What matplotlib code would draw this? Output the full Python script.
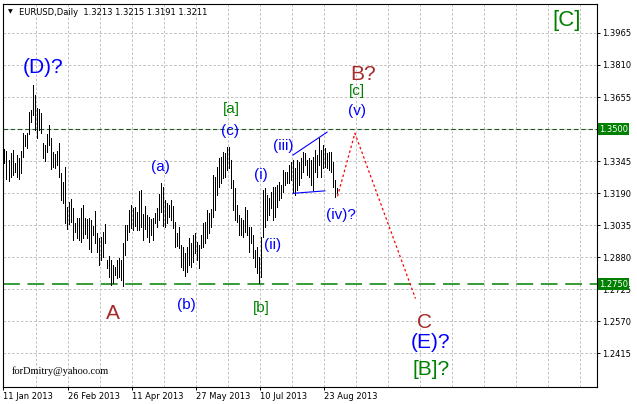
import matplotlib
matplotlib.use("Agg")
import matplotlib.pyplot as plt
import matplotlib.transforms as mtransforms

# daily bars, EURUSD 11 Jan 2013 .. early Sep 2013
highs = [
    1.3403, 1.3394, 1.3350, 1.3382, 1.3398, 1.3334, 1.3374, 1.3358, 1.3394, 1.3479,
    1.3471, 1.3479, 1.3584, 1.3592, 1.3713, 1.3665, 1.3600, 1.3597, 1.3576, 1.3431,
    1.3423, 1.3474, 1.3519, 1.3455, 1.3390, 1.3378, 1.3394, 1.3431, 1.3286, 1.3245,
    1.3318, 1.3124, 1.3145, 1.3161, 1.3116, 1.3044, 1.3071, 1.3068, 1.3116, 1.3132,
    1.3068, 1.3065, 1.3068, 1.3060, 1.3031, 1.3105, 1.2995, 1.2971, 1.2979, 1.3003,
    1.3040, 1.2866, 1.2886, 1.2866, 1.2842, 1.2834, 1.2866, 1.2874, 1.2866, 1.2950,
    1.3036, 1.3036, 1.3108, 1.3132, 1.3116, 1.3121, 1.3100, 1.3202, 1.3205, 1.3089,
    1.3127, 1.3084, 1.3076, 1.3063, 1.3068, 1.3092, 1.3116, 1.3186, 1.3240, 1.3221,
    1.3157, 1.3141, 1.3132, 1.3157, 1.3127, 1.3052, 1.2998, 1.3027, 1.2939, 1.2931,
    1.2899, 1.2931, 1.2971, 1.2947, 1.2987, 1.2995, 1.2955, 1.2939, 1.2987, 1.3044,
    1.3052, 1.3108, 1.3095, 1.3112, 1.3277, 1.3269, 1.3318, 1.3358, 1.3366, 1.3390,
    1.3382, 1.3414, 1.3414, 1.3350, 1.3253, 1.3213, 1.3132, 1.3084, 1.3068, 1.3060,
    1.3124, 1.3108, 1.3027, 1.3027, 1.2987, 1.2915, 1.2931, 1.2882, 1.2979, 1.3205,
    1.3213, 1.3181, 1.3165, 1.3197, 1.3221, 1.3221, 1.3229, 1.3245, 1.3229, 1.3302,
    1.3293, 1.3293, 1.3326, 1.3342, 1.3350, 1.3310, 1.3350, 1.3342, 1.3358, 1.3390,
    1.3382, 1.3350, 1.3358, 1.3350, 1.3366, 1.3398, 1.3374, 1.3455, 1.3398, 1.3423,
    1.3407, 1.3382, 1.3390, 1.3390, 1.3342, 1.3253, 1.3215]
lows = [
    1.3334, 1.3258, 1.3248, 1.3269, 1.3277, 1.3293, 1.3269, 1.3258, 1.3286, 1.3366,
    1.3419, 1.3410, 1.3474, 1.3535, 1.3568, 1.3495, 1.3455, 1.3495, 1.3479, 1.3358,
    1.3345, 1.3390, 1.3423, 1.3306, 1.3318, 1.3313, 1.3326, 1.3269, 1.3157, 1.3141,
    1.3044, 1.3016, 1.3039, 1.3049, 1.2963, 1.3003, 1.2971, 1.2963, 1.2955, 1.2974,
    1.2991, 1.2971, 1.2919, 1.2906, 1.2987, 1.2947, 1.2906, 1.2842, 1.2866, 1.2882,
    1.2947, 1.2826, 1.2785, 1.2745, 1.2754, 1.2794, 1.2778, 1.2785, 1.2769, 1.2740,
    1.2890, 1.2963, 1.3003, 1.3020, 1.3011, 1.3031, 1.3011, 1.3011, 1.3027, 1.2963,
    1.3015, 1.2979, 1.2955, 1.2987, 1.2963, 1.3044, 1.3027, 1.3060, 1.3100, 1.3031,
    1.3027, 1.3044, 1.3076, 1.3060, 1.3020, 1.2931, 1.2934, 1.2923, 1.2834, 1.2818,
    1.2789, 1.2810, 1.2842, 1.2834, 1.2858, 1.2899, 1.2866, 1.2826, 1.2923, 1.2931,
    1.2947, 1.2971, 1.2995, 1.3027, 1.3076, 1.3108, 1.3181, 1.3221, 1.3237, 1.3261,
    1.3269, 1.3302, 1.3310, 1.3213, 1.3108, 1.3060, 1.3052, 1.2987, 1.2987, 1.2979,
    1.3003, 1.2987, 1.2906, 1.2947, 1.2874, 1.2834, 1.2802, 1.2754, 1.2785, 1.2979,
    1.3027, 1.3060, 1.3084, 1.3116, 1.3060, 1.3076, 1.3124, 1.3157, 1.3165, 1.3197,
    1.3229, 1.3237, 1.3237, 1.3253, 1.3189, 1.3181, 1.3205, 1.3229, 1.3261, 1.3293,
    1.3326, 1.3277, 1.3269, 1.3229, 1.3205, 1.3293, 1.3269, 1.3326, 1.3269, 1.3310,
    1.3318, 1.3310, 1.3302, 1.3293, 1.3221, 1.3172, 1.3191]

date_pos = [0, 32, 64, 96, 128, 160]
date_labels = ["11 Jan 2013", "26 Feb 2013", "11 Apr 2013", "27 May 2013",
               "10 Jul 2013", "23 Aug 2013"]
price_ticks = [1.2415, 1.2570, 1.2725, 1.2880, 1.3035, 1.3190,
               1.3345, 1.3500, 1.3655, 1.3810, 1.3965]
levels = [1.3500, 1.2750]

# wave labels: text, bar position, price, colour, size
BLUE, BROWN, GREEN = "#0000ff", "#a52a2a", "#008000"
labels = [
    ("(D)?", 19.2, 1.3800, BLUE, 15),
    ("[C]", 281.0, 1.4025, GREEN, 16),
    ("B?", 179.2, 1.3762, BROWN, 15),
    ("[c]", 176.2, 1.3683, GREEN, 11),
    ("(v)", 176.2, 1.3587, BLUE, 11),
    ("[a]", 113.2, 1.3597, GREEN, 11),
    ("(c)", 112.8, 1.3490, BLUE, 11),
    ("(a)", 78.2, 1.3316, BLUE, 11),
    ("(iii)", 139.2, 1.3418, BLUE, 11),
    ("(i)", 128.2, 1.3277, BLUE, 11),
    ("(ii)", 134.2, 1.2939, BLUE, 11),
    ("(iv)?", 168.2, 1.3084, BLUE, 11),
    ("(b)", 90.8, 1.2649, BLUE, 11),
    ("[b]", 128.2, 1.2634, GREEN, 11),
    ("A", 54.2, 1.2610, BROWN, 15),
    ("C", 209.8, 1.2566, BROWN, 15),
    ("(E)?", 213.2, 1.2465, BLUE, 15),
    ("[B]?", 213.2, 1.2339, GREEN, 15),
]

# triangle (iv) boundaries and the projected path
tri_top_x, tri_top_y = [144.2, 161.3], [1.3374, 1.3485]
tri_bot_x, tri_bot_y = [144.2, 160.2], [1.3189, 1.3201]
path_x, path_y = [166.5, 175.2, 205.5], [1.3175, 1.3480, 1.2680]

fig = plt.figure(figsize=(6.37, 4.04), dpi=100)
L, R, T, B = 3, 597, 4, 387
ax = fig.add_axes([L / 637, 1 - B / 404, (R - L) / 637, (B - T) / 404])
ax.set_xlim(-0.75, 296.25)
ax.set_ylim(1.2252, 1.4105)

# grid
for k in range(1, 19):
    ax.axvline(16 * k - 0.4, color="#c0c0c0", lw=0.7, dashes=(2.5, 2), zorder=0)
for p in price_ticks:
    ax.axhline(p, color="#c0c0c0", lw=0.7, dashes=(2.5, 2), zorder=0)

# bars: one pixel wide high-low lines
xs = list(range(len(highs)))
ax.vlines(xs, lows, highs, color="black", lw=0.5, antialiased=False, zorder=2)

# levels
ax.axhline(levels[0], color="#1e5a1e", lw=0.8, dashes=(4, 2.5), zorder=1)
ax.axhline(levels[1], color="#008000", lw=1.1, dashes=(11, 5), zorder=1)

ax.plot(tri_top_x, tri_top_y, color=BLUE, lw=0.8)
ax.plot(tri_bot_x, tri_bot_y, color=BLUE, lw=0.8)
ax.plot(path_x, path_y, color="red", lw=0.9, dashes=(2, 2))

for txt, x, y, c, s in labels:
    ax.text(x, y, txt, color=c, fontsize=s, family="Liberation Sans",
            ha="center", va="center")

ax.text(3.8, 1.2329, "forDmitry@yahoo.com", family="Liberation Serif",
        fontsize=7.5, ha="left", va="center")
ax.text(0.008, 0.979, "\u25bc", transform=ax.transAxes, fontsize=4.5, va="center")
ax.text(0.027, 0.979, "EURUSD,Daily  1.3213 1.3215 1.3191 1.3211",
        transform=ax.transAxes, fontsize=6, va="center")

# axes styling
for sp in ax.spines.values():
    sp.set_linewidth(0.8)
ax.yaxis.tick_right()
ax.set_yticks(price_ticks)
# the 1.3500 value is shown by its level box instead
ax.set_yticklabels(["" if p == levels[0] else "%.4f" % p for p in price_ticks])
ax.set_xticks([d - 0.5 for d in date_pos])
ax.set_xticklabels(date_labels)
ax.tick_params(axis="both", length=2.5, width=0.7, pad=1, labelsize=6)
for lab in ax.get_xticklabels():
    lab.set_ha("left")

trans = mtransforms.blended_transform_factory(ax.transAxes, ax.transData)
for lv in levels:
    ax.text(1.003, lv, "%.4f" % lv, transform=trans, color="white", fontsize=6,
            va="center", ha="left", clip_on=False, zorder=5,
            bbox=dict(boxstyle="square,pad=0.15", fc="#008000", ec="none"))

fig.savefig("out.png", dpi=100)
